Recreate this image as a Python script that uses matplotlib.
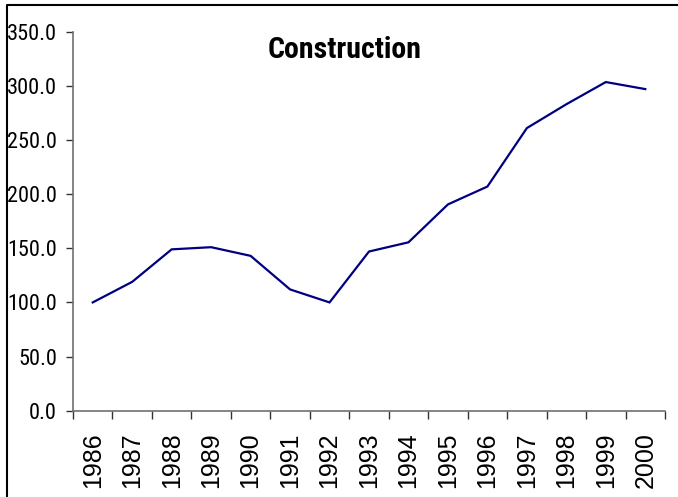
import matplotlib
matplotlib.use("Agg")
import matplotlib.pyplot as plt
from matplotlib import font_manager
from matplotlib.font_manager import FontProperties
from matplotlib.lines import Line2D
from matplotlib.ticker import FixedLocator, FormatStrFormatter

years = ["1986", "1987", "1988", "1989", "1990", "1991", "1992", "1993",
         "1994", "1995", "1996", "1997", "1998", "1999", "2000"]
values = [100.0, 119.0, 149.0, 151.0, 143.0, 112.0, 100.0, 147.0,
          155.5, 190.5, 207.0, 261.0, 283.0, 303.5, 297.0]
title = "Construction"


def pick_condensed(bold):
    prefs = ["Liberation Sans Narrow", "Arial Narrow", "Roboto Condensed",
             "Open Sans Condensed", "Noto Sans", "DejaVu Sans", "Open Sans", "Roboto"]
    entries = font_manager.fontManager.ttflist
    for name in prefs:
        for f in entries:
            if f.name != name or f.style != "normal":
                continue
            w = f.weight if isinstance(f.weight, int) else (700 if f.weight == "bold" else 400)
            if bold != (w >= 600 and w <= 750):
                continue
            if not bold and w != 400:
                continue
            is_narrow = ("Narrow" in name or "Condensed" in name or
                         (isinstance(f.stretch, str) and "condensed" in f.stretch) or
                         (isinstance(f.stretch, int) and f.stretch < 500) or
                         "ondensed" in f.fname)
            if is_narrow and "Extra" not in f.fname and "Semi" not in f.fname and "Ultra" not in f.fname:
                return FontProperties(fname=f.fname), True
    return None, False


narrow_reg, ok_reg = pick_condensed(False)
narrow_bold, ok_bold = pick_condensed(True)
regular = "Liberation Sans"

W, H = 678, 497
fig = plt.figure(figsize=(W / 100, H / 100), dpi=100)
ax = fig.add_axes([73 / W, 1 - 410.7 / H, (665 - 73) / W, (410.7 - 31.7) / H])

x = list(range(len(years)))
ax.plot(x, values, color="#000080", lw=1.6, solid_joinstyle="miter")

ax.set_xlim(-0.5, len(years) - 0.5)
ax.set_ylim(0, 350)
ax.set_yticks([0, 50, 100, 150, 200, 250, 300, 350])
ax.yaxis.set_major_formatter(FormatStrFormatter("%.1f"))

ax.set_xticks(x)
ax.set_xticklabels(years, rotation=90, fontfamily=regular, fontsize=18, va="top")
ax.xaxis.set_minor_locator(FixedLocator([i - 0.5 for i in range(len(years) + 1)]))
ax.tick_params(axis="x", which="major", length=0, pad=15.5)
ax.tick_params(axis="x", which="minor", length=6, width=1, color="#333333", direction="out")
ax.tick_params(axis="y", which="major", length=5, width=1, color="#333333", pad=6.5)
for lab in ax.get_yticklabels():
    if ok_reg:
        lab.set_fontproperties(narrow_reg)
        lab.set_fontsize(16)
    else:
        lab.set_fontfamily(regular)
        lab.set_fontsize(14)

for s in ["top", "right"]:
    ax.spines[s].set_visible(False)
for s in ["left", "bottom"]:
    ax.spines[s].set_color("#707070")
    ax.spines[s].set_linewidth(1.2)

if ok_bold:
    fig.text(344.5 / W, 1 - 58 / H, title, ha="center", va="baseline",
             fontproperties=narrow_bold, fontsize=21.5)
else:
    fig.text(344.5 / W, 1 - 58 / H, title, ha="center", va="baseline",
             fontfamily=regular, fontweight="bold", fontsize=20)

fig.add_artist(Line2D([7 / W, 7 / W, 1.01], [-0.01, 1 - 5 / H, 1 - 5 / H],
                      transform=fig.transFigure, color="black", lw=1.5))

fig.savefig("out.png", dpi=100)
